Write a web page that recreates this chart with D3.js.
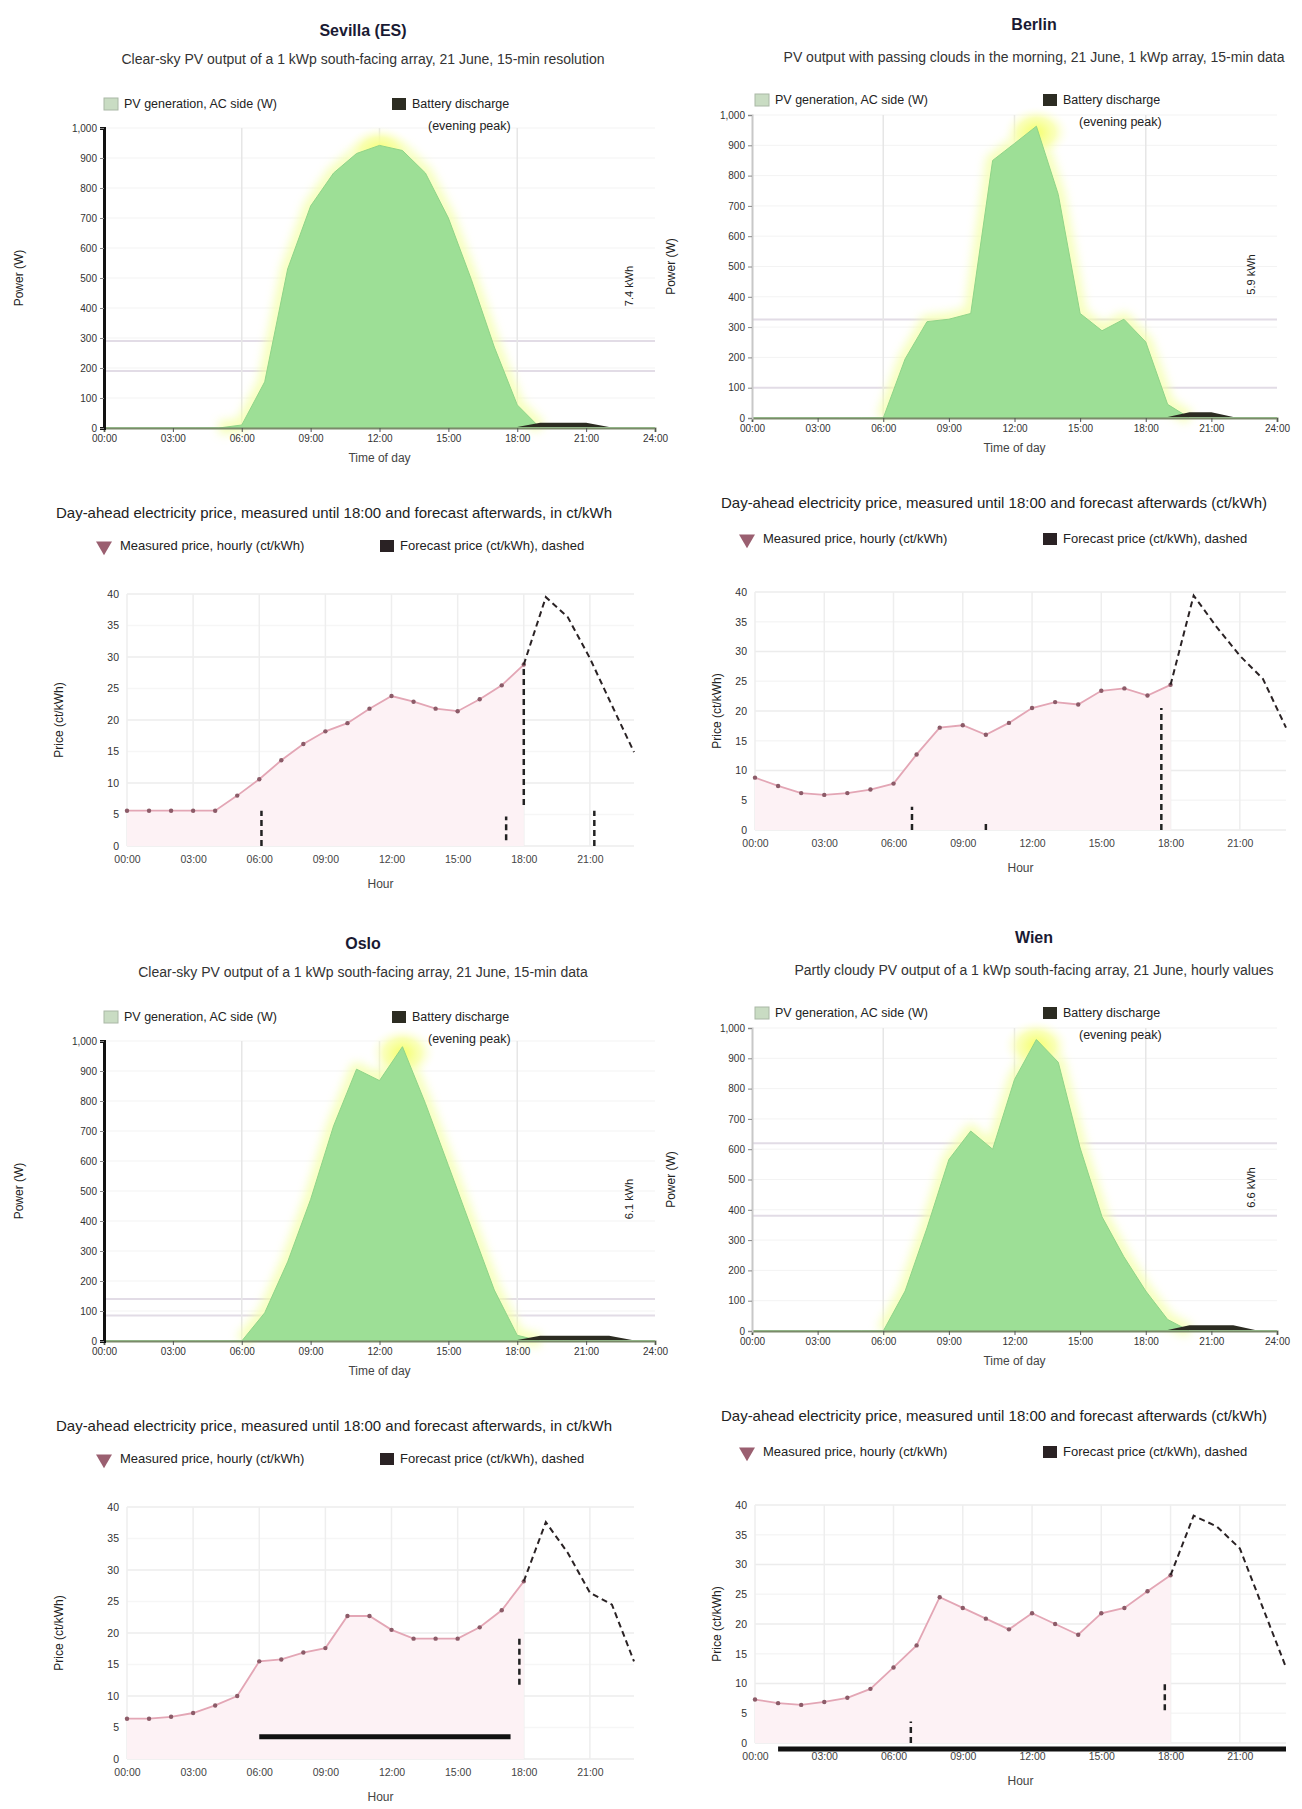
<!DOCTYPE html>
<html>
<head>
<meta charset="utf-8">
<script src="https://cdn.jsdelivr.net/npm/d3@7"></script>
<style>
  body { margin: 0; background: #fff; font-family: "Liberation Sans", Arial, sans-serif; }
</style>
</head>
<body>
<div id="chart"></div>
<script>
// Canvas
const width = 1302;
const height = 1809;

// Shared axes data
const hours = d3.range(0, 25);          // area charts, 0..24 h
const priceHours = d3.range(0, 19);     // measured price, 0..18 h
const forecastHours = d3.range(18, 24); // forecast price, 18..23 h
const powerTicks = d3.range(0, 1001, 100);
const priceTicks = d3.range(0, 41, 5);
const timeTicks = [0, 3, 6, 9, 12, 15, 18, 21, 24];
const hourTicks = [0, 3, 6, 9, 12, 15, 18, 21];

// Panel texts
const cities = ["Sevilla (ES)", "Berlin", "Oslo", "Wien"];
const subtitles = [
  "Clear-sky PV output of a 1 kWp south-facing array, 21 June, 15-min resolution",
  "PV output with passing clouds in the morning, 21 June, 1 kWp array, 15-min data",
  "Clear-sky PV output of a 1 kWp south-facing array, 21 June, 15-min data",
  "Partly cloudy PV output of a 1 kWp south-facing array, 21 June, hourly values"
];
const priceTitles = [
  "Day-ahead electricity price, measured until 18:00 and forecast afterwards, in ct/kWh",
  "Day-ahead electricity price, measured until 18:00 and forecast afterwards (ct/kWh)",
  "Day-ahead electricity price, measured until 18:00 and forecast afterwards, in ct/kWh",
  "Day-ahead electricity price, measured until 18:00 and forecast afterwards (ct/kWh)"
];
const dailyTotals = ["7.4", "5.9", "6.1", "6.6"];

// PV generation (W), hourly 0..24
const pvTL = [0,0,0,0,0,0,10,154,530,740,850,915,942,925,850,700,495,270,77,0,0,0,0,0,0];
const pvTR = [0,0,0,0,0,0,0,195,318,326,345,850,906,963,738,345,288,326,251,45,0,0,0,0,0];
const pvBL = [0,0,0,0,0,0,0,94,264,472,717,906,868,981,792,585,377,170,19,0,0,0,0,0,0];
const pvBR = [0,0,0,0,0,0,0,132,340,566,660,600,830,962,887,604,377,245,132,38,0,0,0,0,0];

// Battery discharge (W), hourly 0..24, null = idle
const batTL = [null,null,null,null,null,null,null,null,null,null,null,null,null,null,null,null,null,null,0,14,14,14,0,null,null];
const batTR = [null,null,null,null,null,null,null,null,null,null,null,null,null,null,null,null,null,null,null,0,16,16,0,null,null];
const batBL = [null,null,null,null,null,null,null,null,null,null,null,null,null,null,null,null,null,null,0,14,14,14,14,0,null];
const batBR = [null,null,null,null,null,null,null,null,null,null,null,null,null,null,null,null,null,null,null,0,16,16,16,0,null];

// Reference levels (W)
const refTL = [190, 290];
const refTR = [100, 325];
const refBL = [85, 140];
const refBR = [380, 620];

// Measured price (ct/kWh), 0..18 h
const priceTL = [5.6,5.6,5.6,5.6,5.6,8.0,10.6,13.6,16.2,18.2,19.5,21.8,23.8,22.9,21.8,21.4,23.3,25.5,28.8];
const priceTR = [8.8,7.4,6.2,5.9,6.2,6.8,7.8,12.7,17.2,17.6,16.0,18.0,20.5,21.5,21.1,23.4,23.8,22.6,24.4];
const priceBL = [6.4,6.4,6.7,7.3,8.5,10.0,15.5,15.8,16.9,17.6,22.7,22.7,20.5,19.1,19.1,19.1,20.9,23.6,28.2];
const priceBR = [7.3,6.7,6.4,6.9,7.6,9.1,12.7,16.4,24.5,22.7,20.9,19.1,21.8,20.0,18.2,21.8,22.7,25.5,28.2];

// Forecast price (ct/kWh), 18..23 h
const forecastTL = [28.8,39.5,36.3,29.8,22.3,14.9];
const forecastTR = [24.4,39.4,34.1,29.3,25.4,17.2];
const forecastBL = [28.2,37.6,32.7,26.4,24.5,15.5];
const forecastBR = [28.2,38.2,36.4,32.7,22.7,12.7];

// Forecast ranges [hour, low, high]
const rangeTL = [[6.1,0,5.6],[17.2,0.9,4.7],[18,6.5,28.8],[21.2,0,5.6]];
const rangeTR = [[6.8,0,3.9],[10,0,1.2],[17.6,0,20.5]];
const rangeBL = [[17.8,11.8,19.1]];
const rangeBR = [[6.75,0,3.6],[17.75,5.5,10]];

// Low-price periods [from, to, level]
const spanTL = [];
const spanTR = [];
const spanBL = [[6, 17.4, 4.5]];
const spanBR = [[1, 23, 0]];

const panels = [
  { col: 0, row: 0, pv: pvTL, bat: batTL, ref: refTL, price: priceTL, forecast: forecastTL, range: rangeTL, span: spanTL },
  { col: 1, row: 0, pv: pvTR, bat: batTR, ref: refTR, price: priceTR, forecast: forecastTR, range: rangeTR, span: spanTR },
  { col: 0, row: 1, pv: pvBL, bat: batBL, ref: refBL, price: priceBL, forecast: forecastBL, range: rangeBL, span: spanBL },
  { col: 1, row: 1, pv: pvBR, bat: batBR, ref: refBR, price: priceBR, forecast: forecastBR, range: rangeBR, span: spanBR }
];

// layout per column
const layouts = [
  { area: { l: 104, r: 655, t: 128, b: 428 }, line: { l: 127, r: 634, t: 594, b: 846 },
    titleX: 363, titleY: 36, subY: 64, legY: 108, lineTitleX: 334, lineTitleY: 518, lineLegY: 550,
    yAxisColor: "#111", yAxisWidth: 3, areaYTitleX: 23, lineYTitleX: 63, markX: 104, boxX: 380 },
  { area: { l: 101, r: 626, t: 115, b: 418 }, line: { l: 104, r: 635, t: 592, b: 830 },
    titleX: 383, titleY: 30, subY: 62, legY: 104, lineTitleX: 343, lineTitleY: 508, lineLegY: 543,
    yAxisColor: "#c8c8c8", yAxisWidth: 2, areaYTitleX: 24, lineYTitleX: 70, markX: 96, boxX: 392 }
];

const svg = d3.select("#chart")
  .append("svg")
  .attr("width", width)
  .attr("height", height)
  .style("background", "#fff");

const defs = svg.append("defs");
defs.append("filter")
  .attr("id", "glow")
  .attr("x", "-20%").attr("y", "-20%").attr("width", "140%").attr("height", "140%")
  .append("feGaussianBlur")
  .attr("stdDeviation", 5);

const sun = defs.append("radialGradient").attr("id", "sun");
sun.append("stop").attr("offset", "0%").attr("stop-color", "#f6ff70").attr("stop-opacity", 1);
sun.append("stop").attr("offset", "55%").attr("stop-color", "#f8ffa0").attr("stop-opacity", 0.7);
sun.append("stop").attr("offset", "100%").attr("stop-color", "#fffff0").attr("stop-opacity", 0);

panels.forEach((p, i) => drawPanel(p, i));

function drawPanel(p, i) {
  const L = layouts[p.col];
  const g = svg.append("g")
    .attr("transform", `translate(${p.col * 651}, ${p.row * 913})`);

  // ---------- titles ----------
  g.append("text")
    .attr("x", L.titleX).attr("y", L.titleY)
    .attr("text-anchor", "middle")
    .attr("font-size", "16px").attr("font-weight", "bold")
    .attr("fill", "#1a1a33")
    .text(cities[i]);

  g.append("text")
    .attr("x", L.titleX).attr("y", L.subY)
    .attr("text-anchor", "middle")
    .attr("font-size", "14px")
    .attr("fill", "#333")
    .text(subtitles[i]);

  // ---------- area chart ----------
  const A = L.area;
  const x = d3.scaleLinear().domain([0, 24]).range([A.l, A.r]);
  const y = d3.scaleLinear().domain([0, 1000]).range([A.b, A.t]);

  // grid
  g.append("g").selectAll("line")
    .data(powerTicks)
    .enter().append("line")
    .attr("x1", A.l).attr("x2", A.r)
    .attr("y1", d => y(d)).attr("y2", d => y(d))
    .attr("stroke", "#f3f3f3");

  g.append("g").selectAll("line")
    .data(p.ref)
    .enter().append("line")
    .attr("x1", A.l).attr("x2", A.r)
    .attr("y1", d => y(d)).attr("y2", d => y(d))
    .attr("stroke", "#e2dce6").attr("stroke-width", 2);

  g.append("g").selectAll("line")
    .data([6, 12, 18])
    .enter().append("line")
    .attr("x1", d => x(d)).attr("x2", d => x(d))
    .attr("y1", A.t).attr("y2", A.b)
    .attr("stroke", "#e6e6e6").attr("stroke-width", 1.5);

  const pvPoints = hours.map(h => [h, p.pv[h]]);
  const area = d3.area()
    .x(d => x(d[0]))
    .y0(y(0))
    .y1(d => y(d[1]));
  const line = d3.line()
    .x(d => x(d[0]))
    .y(d => y(d[1]));

  // glow
  const lit = pvPoints.filter(d => d[1] > 0 || (p.pv[d[0] - 1] > 0) || (p.pv[d[0] + 1] > 0));
  g.append("path")
    .attr("d", line(lit))
    .attr("fill", "none")
    .attr("stroke", "#f4ffa8")
    .attr("stroke-width", 14)
    .attr("stroke-linejoin", "round")
    .attr("opacity", 0.75)
    .attr("filter", "url(#glow)");

  const peak = d3.greatestIndex(p.pv);
  g.append("ellipse")
    .attr("cx", x(peak)).attr("cy", y(p.pv[peak]) + 6)
    .attr("rx", 34).attr("ry", 26)
    .attr("fill", "url(#sun)");

  g.append("path")
    .attr("d", area(pvPoints))
    .attr("fill", "#9ddf96")
    .attr("stroke", "#8fd488")
    .attr("stroke-width", 1);

  // battery discharge
  const batArea = d3.area()
    .defined(d => d[1] !== null)
    .x(d => x(d[0]))
    .y0(y(0) - 1)
    .y1(d => y(d[1]) - 1);
  g.append("path")
    .attr("d", batArea(hours.map(h => [h, p.bat[h]])))
    .attr("fill", "#2c2c22");

  // axes
  const xAxis = d3.axisBottom(x)
    .tickValues(timeTicks)
    .tickSize(4)
    .tickFormat(d => String(d).padStart(2, "0") + ":00");
  const xg = g.append("g")
    .attr("transform", `translate(0, ${A.b})`)
    .call(xAxis);
  xg.select(".domain").attr("stroke", "#7b8a6a").attr("stroke-width", 2);
  xg.selectAll("text").attr("font-size", "10px").attr("fill", "#333");
  xg.selectAll(".tick line").attr("stroke", "#555");

  const yAxis = d3.axisLeft(y).tickValues(powerTicks).tickSize(4);
  const yg = g.append("g")
    .attr("transform", `translate(${A.l}, 0)`)
    .call(yAxis);
  yg.select(".domain").attr("stroke", L.yAxisColor).attr("stroke-width", L.yAxisWidth);
  yg.selectAll("text").attr("font-size", "10px").attr("fill", "#333");
  yg.selectAll(".tick line").attr("stroke", "#888");

  g.append("text")
    .attr("transform", `translate(${L.areaYTitleX}, ${(A.t + A.b) / 2}) rotate(-90)`)
    .attr("text-anchor", "middle")
    .attr("font-size", "12px").attr("fill", "#222")
    .text("Power (W)");

  g.append("text")
    .attr("x", (A.l + A.r) / 2).attr("y", A.b + 34)
    .attr("text-anchor", "middle")
    .attr("font-size", "12px").attr("fill", "#444")
    .text("Time of day");

  g.append("text")
    .attr("transform", `translate(${A.r - 22}, ${(A.t + A.b) / 2 + 8}) rotate(-90)`)
    .attr("text-anchor", "middle")
    .attr("font-size", "11px").attr("fill", "#222")
    .text(dailyTotals[i] + " kWh");

  // legend
  const lg = g.append("g").attr("transform", `translate(0, ${L.legY})`);
  lg.append("rect").attr("x", 104).attr("y", -10).attr("width", 14).attr("height", 12)
    .attr("fill", "#c9dcc3").attr("stroke", "#aab8a6");
  lg.append("text").attr("x", 124).attr("y", 0)
    .attr("font-size", "12.5px").attr("fill", "#222")
    .text("PV generation, AC side (W)");
  lg.append("rect").attr("x", 392).attr("y", -10).attr("width", 14).attr("height", 12)
    .attr("fill", "#2c2c22");
  lg.append("text").attr("x", 412).attr("y", 0)
    .attr("font-size", "12.5px").attr("fill", "#222")
    .text("Battery discharge");
  lg.append("text").attr("x", 428).attr("y", 22)
    .attr("font-size", "12.5px").attr("fill", "#222")
    .text("(evening peak)");

  // ---------- price chart ----------
  const P = L.line;
  const px = d3.scaleLinear().domain([0, 23]).range([P.l, P.r]);
  const py = d3.scaleLinear().domain([0, 40]).range([P.b, P.t]);

  g.append("text")
    .attr("x", L.lineTitleX).attr("y", L.lineTitleY)
    .attr("text-anchor", "middle")
    .attr("font-size", "15px").attr("fill", "#222")
    .text(priceTitles[i]);

  g.append("g").selectAll("line")
    .data(priceTicks)
    .enter().append("line")
    .attr("x1", P.l).attr("x2", P.r)
    .attr("y1", d => py(d)).attr("y2", d => py(d))
    .attr("stroke", (d, k) => k % 2 === 0 ? "#ececec" : "#f6f6f6")
    .attr("stroke-width", 1.5);

  g.append("g").selectAll("line")
    .data(hourTicks)
    .enter().append("line")
    .attr("x1", d => px(d)).attr("x2", d => px(d))
    .attr("y1", P.t).attr("y2", P.b)
    .attr("stroke", "#eeeeee").attr("stroke-width", 1.5);

  const pricePts = priceHours.map(h => [h, p.price[h]]);
  const fcPts = forecastHours.map((h, k) => [h, p.forecast[k]]);

  const pArea = d3.area().x(d => px(d[0])).y0(py(0)).y1(d => py(d[1]));
  const pLine = d3.line().x(d => px(d[0])).y(d => py(d[1]));

  g.append("path")
    .attr("d", pArea(pricePts))
    .attr("fill", "#fdf2f5");

  // low-price periods
  g.append("g").selectAll("line")
    .data(p.span)
    .enter().append("line")
    .attr("x1", d => px(d[0])).attr("x2", d => px(d[1]))
    .attr("y1", d => py(d[2]) + 6).attr("y2", d => py(d[2]) + 6)
    .attr("stroke", "#111").attr("stroke-width", 5);

  g.append("path")
    .attr("d", pLine(pricePts))
    .attr("fill", "none")
    .attr("stroke", "#e3a6b5")
    .attr("stroke-width", 1.8);

  g.append("g").selectAll("circle")
    .data(pricePts)
    .enter().append("circle")
    .attr("cx", d => px(d[0])).attr("cy", d => py(d[1]))
    .attr("r", 2.2)
    .attr("fill", "#8c5b68");

  g.append("path")
    .attr("d", pLine(fcPts))
    .attr("fill", "none")
    .attr("stroke", "#2a2224")
    .attr("stroke-width", 2)
    .attr("stroke-dasharray", "6,4");

  g.append("g").selectAll("line")
    .data(p.range)
    .enter().append("line")
    .attr("x1", d => px(d[0])).attr("x2", d => px(d[0]))
    .attr("y1", d => py(d[1])).attr("y2", d => py(d[2]))
    .attr("stroke", "#222")
    .attr("stroke-width", 2.5)
    .attr("stroke-dasharray", "6,4");

  const pxAxis = d3.axisBottom(px)
    .tickValues(hourTicks)
    .tickSize(0)
    .tickPadding(10)
    .tickFormat(d => String(d).padStart(2, "0") + ":00");
  const pxg = g.append("g")
    .attr("transform", `translate(0, ${P.b})`)
    .call(pxAxis);
  pxg.select(".domain").remove();
  pxg.selectAll("text").attr("font-size", "10.5px").attr("fill", "#444");

  const pyAxis = d3.axisLeft(py).tickValues(priceTicks).tickSize(0).tickPadding(8);
  const pyg = g.append("g")
    .attr("transform", `translate(${P.l}, 0)`)
    .call(pyAxis);
  pyg.select(".domain").remove();
  pyg.selectAll("text").attr("font-size", "10.5px").attr("fill", "#333");

  g.append("text")
    .attr("transform", `translate(${L.lineYTitleX}, ${(P.t + P.b) / 2}) rotate(-90)`)
    .attr("text-anchor", "middle")
    .attr("font-size", "12px").attr("fill", "#222")
    .text("Price (ct/kWh)");

  g.append("text")
    .attr("x", (P.l + P.r) / 2).attr("y", P.b + 42)
    .attr("text-anchor", "middle")
    .attr("font-size", "12px").attr("fill", "#444")
    .text("Hour");

  // price legend
  const pl = g.append("g").attr("transform", `translate(0, ${L.lineLegY})`);
  pl.append("path")
    .attr("d", d3.symbol().type(d3.symbolTriangle).size(110)())
    .attr("transform", `translate(${L.markX}, -4) rotate(180)`)
    .attr("fill", "#9a5f70");
  pl.append("text").attr("x", L.markX + 16).attr("y", 0)
    .attr("font-size", "13px").attr("fill", "#222")
    .text("Measured price, hourly (ct/kWh)");
  pl.append("rect").attr("x", L.boxX).attr("y", -10).attr("width", 14).attr("height", 12)
    .attr("fill", "#2a2224");
  pl.append("text").attr("x", L.boxX + 20).attr("y", 0)
    .attr("font-size", "13px").attr("fill", "#222")
    .text("Forecast price (ct/kWh), dashed");
}
</script>
</body>
</html>
